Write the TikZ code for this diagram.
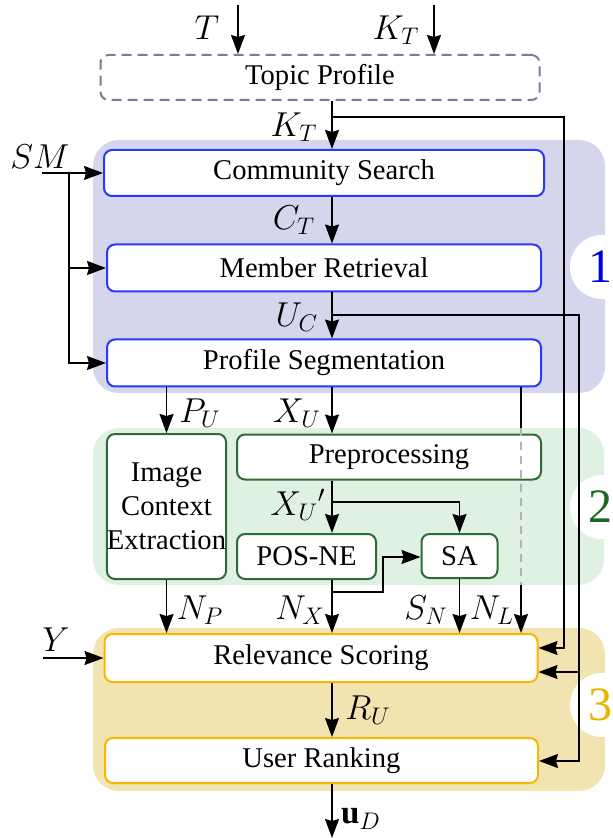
\documentclass[tikz,border=0pt]{standalone}
\usepackage{amsmath}
\usepackage{amssymb}
\usepackage{fontspec}
\setmainfont{Liberation Serif}
\usepackage{xcolor}
\usetikzlibrary{arrows.meta}
\definecolor{regone}{RGB}{213,213,236}
\definecolor{regtwo}{RGB}{223,242,226}
\definecolor{regthree}{RGB}{242,228,176}
\definecolor{blueline}{RGB}{40,56,255}
\definecolor{greenline}{RGB}{46,107,54}
\definecolor{orangeline}{RGB}{250,182,0}
\definecolor{topicline}{RGB}{123,123,155}
\definecolor{numone}{RGB}{0,0,220}
\definecolor{numtwo}{RGB}{30,105,30}
\definecolor{numthree}{RGB}{232,178,0}

\begin{document}
\begin{tikzpicture}[x=0.5pt,y=-0.5pt,
  >={Stealth[length=9.5pt,width=7pt,inset=1pt]},
  every node/.style={font=\fontsize{14.3}{17}\selectfont},
  lab/.style={font=\fontsize{16.5}{19}\selectfont,inner sep=0pt},
  wire/.style={line width=0.75pt},
  bbox/.style={draw,rounded corners=4pt,fill=white,line width=1pt,inner sep=0pt},
  stageone/.style={bbox,draw=blueline},
  stagetwo/.style={bbox,draw=greenline},
  stagethree/.style={bbox,draw=orangeline},
  stagenum/.style={font=\fontsize{24}{28}\selectfont}]
  \useasboundingbox (0,0) rectangle (612,838);

  \fill[regone,rounded corners=13pt] (93,140) rectangle (605,393);
  \fill[regtwo,rounded corners=13pt] (93,428) rectangle (604,585);
  \fill[regthree,rounded corners=13pt] (93,628) rectangle (605,791);
  \fill[white] (602,267) circle (16pt);
  \fill[white] (602,507) circle (16pt);
  \fill[white] (602,705) circle (16pt);
  \node[stagenum,numone] (one) at (600,267) {1};
  \node[stagenum,numtwo] (two) at (600,507) {2};
  \node[stagenum,numthree] (three) at (600,705) {3};

  \node[bbox,draw=topicline,dash pattern=on 5pt off 3pt,minimum width=219.5pt,minimum height=22.5pt] (topic) at (320,77.5) {Topic Profile};
  \node[stageone,minimum width=220pt,minimum height=23pt] (cs) at (324,173) {Community Search};
  \node[stageone,minimum width=217pt,minimum height=23.5pt] (mr) at (324,268) {Member Retrieval};
  \node[stageone,minimum width=217pt,minimum height=23.5pt] (ps) at (324,363) {Profile Segmentation};
  \node[stagetwo,minimum width=59.5pt,minimum height=72.5pt,align=center] (ice) at (166.5,506.5) {Image\\Context\\Extraction};
  \node[stagetwo,minimum width=152pt,minimum height=22.5pt] (pre) at (389,457) {Preprocessing};
  \node[stagetwo,minimum width=69.5pt,minimum height=22.5pt] (pos) at (306.5,556.5) {POS-NE};
  \node[stagetwo,minimum width=38pt,minimum height=22pt] (sa) at (459.5,556) {SA};
  \node[stagethree,minimum width=216.5pt,minimum height=24pt] (rs) at (321,658) {Relevance Scoring};
  \node[stagethree,minimum width=216.5pt,minimum height=22.5pt] (ur) at (321.5,760.5) {User Ranking};

  \coordinate (ax) at (332,0);
  \coordinate (tin) at (238,5);
  \coordinate (kin) at (434,5);
  \coordinate (smin) at (42,173);
  \coordinate (yin) at (43,658);
  \coordinate (uout) at (332,838);
  \coordinate (nltop) at (521,428);
  \coordinate (nlbot) at (521,585);

  \node[lab] (tlab) at (207,28) {$T$};
  \node[lab] (klab) at (396,30) {$K_T$};
  \node[lab] (kt) at (294,127) {$K_T$};
  \node[lab] (ct) at (294,220) {$C_T$};
  \node[lab] (uc) at (297,317) {$U_C$};
  \node[lab] (sm) at (40,157) {$SM$};
  \node[lab] (pu) at (200,413) {$P_U$};
  \node[lab] (xu) at (297,413) {$X_U$};
  \node[lab] (xup) at (298,505) {$X_U{}'$};
  \node[lab] (np) at (200,610) {$N_P$};
  \node[lab] (nx) at (300,610) {$N_X$};
  \node[lab] (sn) at (426,610) {$S_N$};
  \node[lab] (nl) at (492,610) {$N_L$};
  \node[lab] (ylab) at (56,640) {$Y$};
  \node[lab] (ru) at (368,710) {$R_U$};
  \node[lab] (ud) at (361,819) {$\mathbf{u}_D$};

  \draw[wire,->] (tin) -- (tin |- topic.north);
  \draw[wire,->] (kin) -- (kin |- topic.north);
  \draw[wire,->] (ax |- topic.south) -- (ax |- cs.north);
  \draw[wire,->] (ax |- cs.south) -- (ax |- mr.north);
  \draw[wire,->] (ax |- mr.south) -- (ax |- ps.north);
  \draw[wire,->] (332,117) -- (564,117) -- (564,648) -- (rs.east |- 564,648);
  \draw[wire,->] (332,315) -- (579,315) -- (579,761) -- (ur.east |- 579,761);
  \draw[wire,->] (579,672) -- (rs.east |- 579,672);

  \draw[wire,->] (smin) -- (cs.west |- smin);
  \draw[wire,->] (69,173) -- (69,363) -- (ps.west);
  \draw[wire,->] (69,268) -- (mr.west);

  \draw[wire,->] (ice.north |- ps.south) -- (ice.north);
  \draw[wire,->] (ax |- ps.south) -- (ax |- pre.north);
  \draw[wire,->] (ax |- pre.south) -- (ax |- pos.north);
  \draw[wire,->] (332,502) -| (sa.north);
  \draw[wire,->] (332,592) -- (383,592) -- (383,557) -- (sa.west |- 383,557);
  \draw[wire] (ps.south -| nltop) -- (nltop);
  \draw[line width=0.75pt,gray!60,dash pattern=on 4pt off 3pt] (nltop) -- (nlbot);
  \draw[wire,->] (nlbot) -- (nlbot |- rs.north);

  \draw[wire,->] (ice.south) -- (ice.south |- rs.north);
  \draw[wire,->] (ax |- pos.south) -- (ax |- rs.north);
  \draw[wire,->] (sa.south) -- (sa.south |- rs.north);
  \draw[wire,->] (yin) -- (rs.west);
  \draw[wire,->] (ax |- rs.south) -- (ax |- ur.north);
  \draw[wire,->] (ax |- ur.south) -- (uout);
\end{tikzpicture}
\end{document}
